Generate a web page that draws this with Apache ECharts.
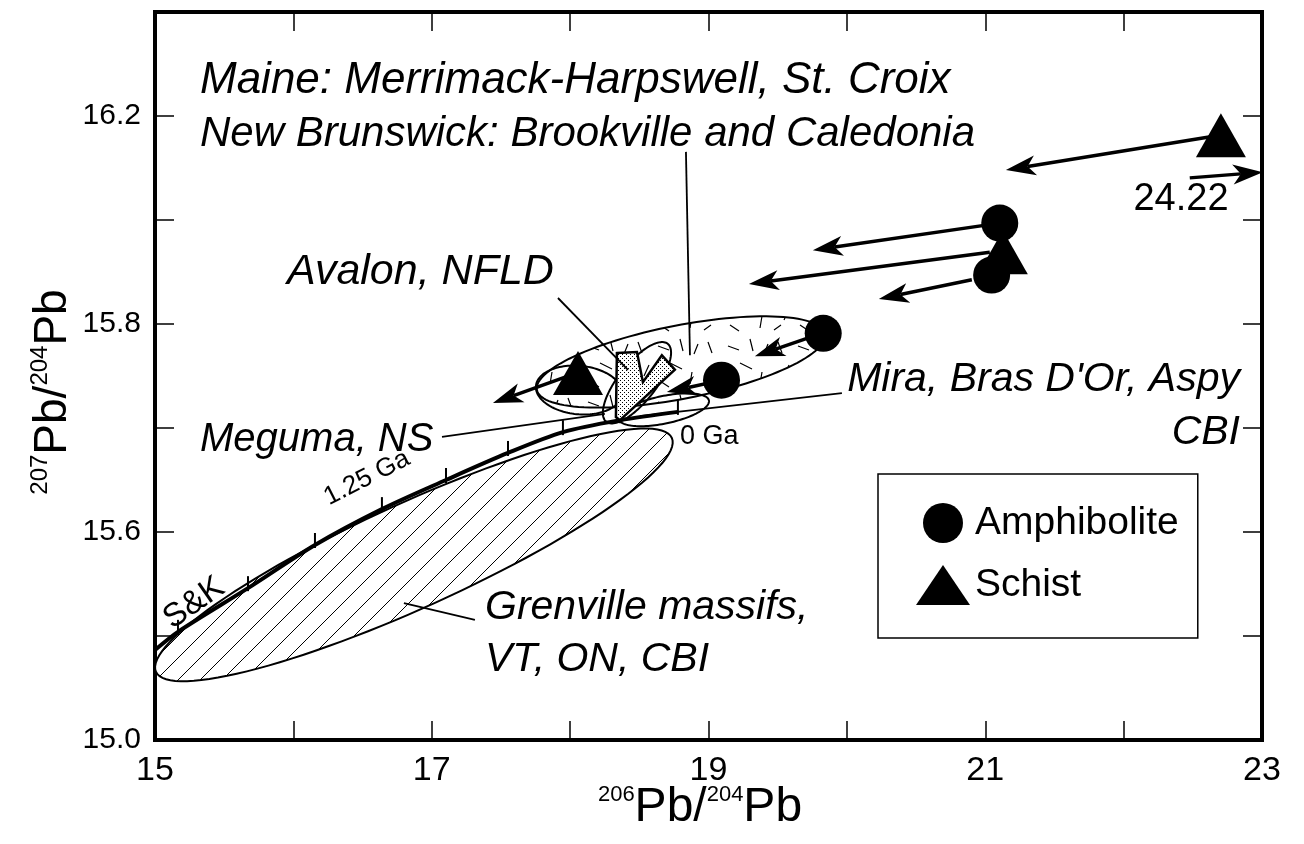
<!DOCTYPE html>
<html><head><meta charset="utf-8">
<script src="https://cdn.jsdelivr.net/npm/echarts@6/dist/echarts.min.js"></script>
<style>html,body{margin:0;padding:0;background:#fff}#c{width:1304px;height:844px}</style>
</head><body><div id="c"></div>
<script>
// ---------- data ----------
const xTickValues = [15, 16, 17, 18, 19, 20, 21, 22, 23];
const xTickLabels = ['15', '', '17', '', '19', '', '21', '', '23'];
const yTickValues = [15.0, 15.2, 15.4, 15.6, 15.8, 16.0, 16.2, 16.4];
const yTickLabels = ['15.0', '', '15.6', '', '15.8', '', '16.2', ''];

const amphibolite = [[19.094, 15.692], [19.829, 15.782], [21.105, 15.994], [21.046, 15.894]];
const schist = [[18.057, 15.706], [21.127, 15.938], [22.703, 16.163]];

// arrows: [xFrom, yFrom, xTo, yTo]
const arrows = [
  [21.105, 15.994, 19.754, 15.942],
  [21.033, 15.938, 19.292, 15.877],
  [20.903, 15.885, 20.231, 15.848],
  [19.827, 15.783, 19.335, 15.738],
  [19.097, 15.692, 18.699, 15.669],
  [18.049, 15.706, 17.442, 15.648],
  [22.695, 16.163, 21.149, 16.096],
  [22.478, 16.081, 23.006, 16.092]
];

// Stacey & Kramers growth curve (S&K) with tick marks
const skCurve = [[15.000, 15.173], [15.166, 15.208], [15.672, 15.292], [16.156, 15.375], [16.640, 15.444],
  [17.103, 15.500], [17.551, 15.552], [17.948, 15.592], [18.360, 15.615], [18.779, 15.631]];
const skTicks = skCurve.slice(1);

// ellipses: [centerX, centerY, majorEndX, majorEndY, minor/major ratio]
const grenvilleEllipse = [16.871, 15.356, 15.007, 15.131, 0.185];
const maineEllipse = [18.801, 15.727, 17.760, 15.673, 0.25];
const megumaEllipse = [18.064, 15.673, 17.753, 15.681, 0.56];
const avalonEllipse = [18.483, 15.687, 18.705, 15.762, 0.38];
const miraEllipse = [18.678, 15.635, 19.003, 15.653, 0.3];

// Avalon NFLD stippled field
const avalonField = [[18.338, 15.744], [18.483, 15.746], [18.526, 15.688], [18.663, 15.740],
  [18.757, 15.712], [18.360, 15.615], [18.331, 15.621]];

// leader lines: [x0, y0, x1, y1]
const leaders = [
  [18.837, 16.131, 18.866, 15.740],
  [17.912, 15.850, 18.418, 15.712],
  [17.074, 15.583, 18.251, 15.627],
  [19.964, 15.667, 18.504, 15.623],
  [16.799, 15.263, 17.312, 15.231]
];

// ---------- patterns ----------
function hatch() {
  const c = document.createElement('canvas'); c.width = 22; c.height = 22;
  const g = c.getContext('2d'); g.fillStyle = '#fff'; g.fillRect(0, 0, 22, 22);
  g.strokeStyle = '#000'; g.lineWidth = 1;
  g.beginPath(); g.moveTo(-2, 24); g.lineTo(24, -2); g.moveTo(-13, 13); g.lineTo(13, -13);
  g.moveTo(9, 35); g.lineTo(35, 9); g.stroke(); return c;
}
function granite() {
  const c = document.createElement('canvas'); c.width = 70; c.height = 56;
  const g = c.getContext('2d'); g.fillStyle = '#fff'; g.fillRect(0, 0, 70, 56);
  g.strokeStyle = '#000'; g.lineWidth = 1.2; g.beginPath();
  const s = [[8,6,12,17],[28,10,39,14],[50,3,53,15],[19,29,14,40],[40,27,52,33],[62,36,60,48],[30,45,39,51],[4,50,11,45],[64,18,68,8]];
  s.forEach(function (q) { g.moveTo(q[0], q[1]); g.lineTo(q[2], q[3]); });
  g.stroke(); return c;
}
function stipple() {
  const c = document.createElement('canvas'); c.width = 4; c.height = 4;
  const g = c.getContext('2d'); g.fillStyle = '#fff'; g.fillRect(0, 0, 4, 4);
  g.fillStyle = '#000'; g.fillRect(0, 0, 1, 1); g.fillRect(2, 2, 1, 1); return c;
}
const hatchFill = { image: hatch(), repeat: 'repeat' };
const graniteFill = { image: granite(), repeat: 'repeat' };
const stippleFill = { image: stipple(), repeat: 'repeat' };

// ---------- render helpers ----------
function ellipseSeries(vals, fill, z) {
  return {
    type: 'custom', coordinateSystem: 'cartesian2d', z: z, silent: true,
    data: [vals], encode: { x: [0, 2], y: [1, 3] },
    renderItem: function (params, api) {
      const c = api.coord([api.value(0), api.value(1)]);
      const e = api.coord([api.value(2), api.value(3)]);
      const dx = e[0] - c[0], dy = e[1] - c[1];
      const a = Math.hypot(dx, dy), b = a * api.value(4), ang = Math.atan2(dy, dx);
      const pts = [];
      for (let i = 0; i < 120; i++) {
        const t = i / 120 * 2 * Math.PI, u = a * Math.cos(t), v = b * Math.sin(t);
        pts.push([c[0] + u * Math.cos(ang) - v * Math.sin(ang), c[1] + u * Math.sin(ang) + v * Math.cos(ang)]);
      }
      return { type: 'polygon', shape: { points: pts }, style: { fill: fill, stroke: '#000', lineWidth: 2 } };
    }
  };
}

const FONT = '"Liberation Sans", Arial, sans-serif';
function ital(px) { return 'italic ' + px + 'px ' + FONT; }

const chart = echarts.init(document.getElementById('c'));
const xAxisBase = {
  type: 'value', min: 15, max: 23, interval: 1,
  axisLine: { show: false }, splitLine: { show: false },
  axisTick: { show: true, inside: true, length: 19, lineStyle: { color: '#000', width: 1.5 } }
};
const yAxisBase = {
  type: 'value', min: 15.0, max: 16.4, interval: 0.2,
  axisLine: { show: false }, splitLine: { show: false },
  axisTick: { show: true, inside: true, length: 19, lineStyle: { color: '#000', width: 1.5 } }
};

const option = {
  backgroundColor: '#fff',
  animation: false,
  grid: { left: 155, right: 42, top: 12, bottom: 104, show: true, borderColor: '#000', borderWidth: 4, backgroundColor: 'transparent' },
  xAxis: [
    Object.assign({}, xAxisBase, { position: 'bottom',
      axisLabel: { color: '#000', fontSize: 34, fontFamily: FONT, margin: 14,
        formatter: function (v) { const i = xTickValues.findIndex(function (t) { return Math.abs(t - v) < 1e-6; }); return i >= 0 ? xTickLabels[i] : ''; } } }),
    Object.assign({}, xAxisBase, { position: 'top', axisLabel: { show: false } })
  ],
  yAxis: [
    Object.assign({}, yAxisBase, { position: 'left',
      axisLabel: { color: '#000', fontSize: 30, fontFamily: FONT, margin: 14,
        formatter: function (v) { const i = yTickValues.findIndex(function (t) { return Math.abs(t - v) < 1e-6; }); return i >= 0 ? yTickLabels[i] : ''; } } }),
    Object.assign({}, yAxisBase, { position: 'right', axisLabel: { show: false } })
  ],
  legend: {
    left: 878, top: 474, orient: 'vertical',
    padding: [29, 19, 33, 38], itemGap: 22, itemWidth: 54, itemHeight: 40,
    borderColor: '#000', borderWidth: 1.5, backgroundColor: '#fff',
    textStyle: { color: '#000', fontSize: 39, fontFamily: FONT },
    data: [{ name: 'Amphibolite', icon: 'circle' }, { name: 'Schist', icon: 'triangle' }]
  },
  series: [
    ellipseSeries(grenvilleEllipse, hatchFill, 1),
    ellipseSeries(maineEllipse, graniteFill, 2),
    {
      type: 'line', data: skCurve, smooth: 0.3, symbol: 'none', z: 3, silent: true,
      lineStyle: { color: '#000', width: 4 }
    },
    {
      type: 'custom', coordinateSystem: 'cartesian2d', z: 3, silent: true, data: skTicks,
      renderItem: function (params, api) {
        const p = api.coord([api.value(0), api.value(1)]);
        return { type: 'line', shape: { x1: p[0], y1: p[1] - 12, x2: p[0], y2: p[1] + 3 }, style: { stroke: '#000', lineWidth: 2 } };
      }
    },
    ellipseSeries(megumaEllipse, 'transparent', 4),
    ellipseSeries(miraEllipse, 'transparent', 4),
    ellipseSeries(avalonEllipse, 'transparent', 4),
    {
      type: 'custom', coordinateSystem: 'cartesian2d', z: 5, silent: true, data: [0],
      renderItem: function (params, api) {
        const pts = avalonField.map(function (d) { return api.coord(d); });
        return { type: 'polygon', shape: { points: pts }, style: { fill: stippleFill, stroke: '#000', lineWidth: 2.5 } };
      }
    },
    {
      type: 'custom', coordinateSystem: 'cartesian2d', z: 6, silent: true, data: leaders,
      renderItem: function (params, api) {
        const a = api.coord([api.value(0), api.value(1)]), b = api.coord([api.value(2), api.value(3)]);
        return { type: 'line', shape: { x1: a[0], y1: a[1], x2: b[0], y2: b[1] }, style: { stroke: '#000', lineWidth: 1.8 } };
      }
    },
    {
      type: 'custom', coordinateSystem: 'cartesian2d', z: 7, silent: true, data: arrows,
      renderItem: function (params, api) {
        const a = api.coord([api.value(0), api.value(1)]), b = api.coord([api.value(2), api.value(3)]);
        const dx = b[0] - a[0], dy = b[1] - a[1], L = Math.hypot(dx, dy), ux = dx / L, uy = dy / L, px = -uy, py = ux;
        const HL = 30, HW = 10, N = 22;
        const back = [b[0] - ux * HL, b[1] - uy * HL];
        const notch = [b[0] - ux * N, b[1] - uy * N];
        return {
          type: 'group', children: [
            { type: 'line', shape: { x1: a[0], y1: a[1], x2: notch[0], y2: notch[1] }, style: { stroke: '#000', lineWidth: 3.5 } },
            { type: 'polygon', shape: { points: [b, [back[0] + px * HW, back[1] + py * HW], notch, [back[0] - px * HW, back[1] - py * HW]] }, style: { fill: '#000' } }
          ]
        };
      }
    },
    {
      name: 'Schist', type: 'scatter', data: schist, symbol: 'triangle', symbolSize: [50, 44], z: 8,
      itemStyle: { color: '#000', opacity: 1 }
    },
    {
      name: 'Amphibolite', type: 'scatter', data: amphibolite, symbol: 'circle', symbolSize: 37, z: 9,
      itemStyle: { color: '#000', opacity: 1 }
    }
  ],
  graphic: [
    { type: 'text', x: 200, y: 81, style: { text: 'Maine: Merrimack-Harpswell, St. Croix', font: ital(44), fill: '#000', align: 'left', verticalAlign: 'middle' } },
    { type: 'text', x: 200, y: 134, style: { text: 'New Brunswick: Brookville and Caledonia', font: ital(42), fill: '#000', align: 'left', verticalAlign: 'middle' } },
    { type: 'text', x: 287, y: 272, style: { text: 'Avalon, NFLD', font: ital(43), fill: '#000', align: 'left', verticalAlign: 'middle' } },
    { type: 'text', x: 200, y: 440, style: { text: 'Meguma, NS', font: ital(40), fill: '#000', align: 'left', verticalAlign: 'middle' } },
    { type: 'text', x: 1240, y: 380, style: { text: "Mira, Bras D'Or, Aspy", font: ital(41), fill: '#000', align: 'right', verticalAlign: 'middle' } },
    { type: 'text', x: 1240, y: 433, style: { text: 'CBI', font: ital(41), fill: '#000', align: 'right', verticalAlign: 'middle' } },
    { type: 'text', x: 485, y: 608, style: { text: 'Grenville massifs,', font: ital(41), fill: '#000', align: 'left', verticalAlign: 'middle' } },
    { type: 'text', x: 485, y: 660, style: { text: 'VT, ON, CBI', font: ital(41), fill: '#000', align: 'left', verticalAlign: 'middle' } },
    { type: 'text', x: 194, y: 603, rotation: 35 * Math.PI / 180, style: { text: 'S&K', font: '33px ' + FONT, fill: '#000', align: 'center', verticalAlign: 'middle' } },
    { type: 'text', x: 367, y: 478, rotation: 27 * Math.PI / 180, style: { text: '1.25 Ga', font: '26px ' + FONT, fill: '#000', align: 'center', verticalAlign: 'middle' } },
    { type: 'text', x: 680, y: 437, style: { text: '0 Ga', font: '27px ' + FONT, fill: '#000', align: 'left', verticalAlign: 'middle' } },
    { type: 'text', x: 1181, y: 200, style: { text: '24.22', font: '38px ' + FONT, fill: '#000', align: 'center', verticalAlign: 'middle' } },
    { type: 'text', x: 52, y: 392, rotation: Math.PI / 2, style: {
        text: '{s|207}{m|Pb/}{s|204}{m|Pb}', fill: '#000', align: 'center', verticalAlign: 'middle',
        rich: { s: { fontSize: 24, fontFamily: FONT, verticalAlign: 'bottom', padding: [0, 0, 24, 0], fill: '#000' }, m: { fontSize: 46, fontFamily: FONT, verticalAlign: 'bottom', fill: '#000' } } } },
    { type: 'text', x: 700, y: 808, style: {
        text: '{s|206}{m|Pb/}{s|204}{m|Pb}', fill: '#000', align: 'center', verticalAlign: 'middle',
        rich: { s: { fontSize: 22, fontFamily: FONT, verticalAlign: 'bottom', padding: [0, 0, 26, 0], fill: '#000' }, m: { fontSize: 48, fontFamily: FONT, verticalAlign: 'bottom', fill: '#000' } } } }
  ]
};
chart.setOption(option);
</script>
</body></html>
